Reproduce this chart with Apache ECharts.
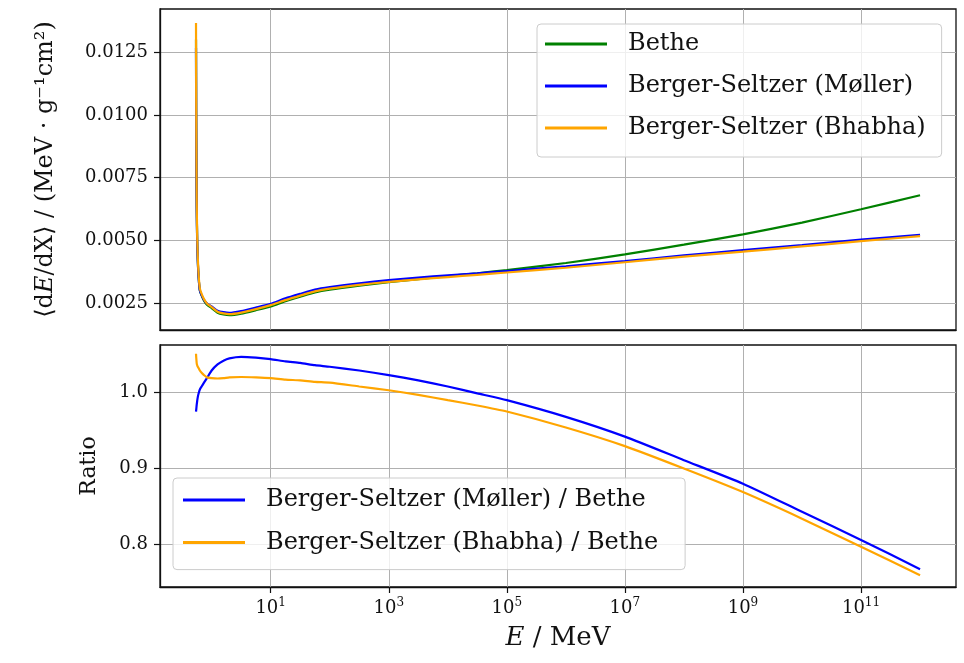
<!DOCTYPE html>
<html>
<head>
<meta charset="utf-8">
<script src="https://cdn.jsdelivr.net/npm/echarts@6/dist/echarts.min.js"></script>
<style>
  html, body { margin: 0; padding: 0; background: #fff; }
  #chart { width: 964px; height: 663px; }
</style>
</head>
<body>
<div id="chart"></div>
<script>
// x values are log10(E / MeV)
const logE = [-0.265, -0.262, -0.258, -0.253, -0.245, -0.235, -0.22, -0.2, -0.17, -0.13, -0.08, 0, 0.1, 0.2, 0.3, 0.5, 0.75, 1, 1.25, 1.5, 1.75, 2, 2.5, 3, 3.5, 4, 4.5, 5, 6, 7, 8, 9, 10, 11, 12];

// top panel: <dE/dX> in MeV g^-1 cm^2
const betheVals = [0.0130, 0.0102, 0.0080, 0.0063, 0.0050, 0.0042, 0.0035, 0.0030, 0.0028, 0.0026, 0.00244, 0.00230, 0.00212, 0.00205, 0.00202, 0.00208, 0.00222, 0.00237, 0.00258, 0.00276, 0.00293, 0.00304, 0.00320, 0.00334, 0.00346, 0.00358, 0.00369, 0.00382, 0.00410, 0.00444, 0.00483, 0.00524, 0.00571, 0.00624, 0.00680];
const mollerVals = [0.01268, 0.00997, 0.00784, 0.00620, 0.00495, 0.00417, 0.00350, 0.00301, 0.00282, 0.00263, 0.00249, 0.00237, 0.00220, 0.00214, 0.00211, 0.00218, 0.00232, 0.00247, 0.00269, 0.00287, 0.00304, 0.00314, 0.00329, 0.00342, 0.00352, 0.00361, 0.00369, 0.00378, 0.00397, 0.00418, 0.00440, 0.00461, 0.00481, 0.00503, 0.00522];
const bhabhaVals = [0.01366, 0.01068, 0.00834, 0.00654, 0.00518, 0.00434, 0.00361, 0.00309, 0.00287, 0.00266, 0.00249, 0.00234, 0.00216, 0.00209, 0.00206, 0.00212, 0.00226, 0.00242, 0.00262, 0.00280, 0.00297, 0.00308, 0.00323, 0.00335, 0.00345, 0.00354, 0.00363, 0.00372, 0.00391, 0.00413, 0.00435, 0.00455, 0.00476, 0.00497, 0.00517];

// bottom panel: ratios
const mollerRatio = [0.975, 0.977, 0.980, 0.984, 0.989, 0.994, 0.999, 1.004, 1.008, 1.013, 1.019, 1.029, 1.037, 1.042, 1.045, 1.047, 1.046, 1.044, 1.041, 1.039, 1.036, 1.034, 1.029, 1.023, 1.016, 1.008, 0.999, 0.990, 0.968, 0.942, 0.911, 0.880, 0.843, 0.806, 0.7675];
const bhabhaRatio = [1.051, 1.047, 1.043, 1.0385, 1.036, 1.034, 1.032, 1.029, 1.026, 1.023, 1.020, 1.019, 1.0185, 1.019, 1.020, 1.0205, 1.020, 1.019, 1.017, 1.016, 1.014, 1.013, 1.008, 1.003, 0.997, 0.990, 0.983, 0.975, 0.954, 0.9295, 0.900, 0.869, 0.834, 0.797, 0.7596];

const xTickExps = [1, 3, 5, 7, 9, 11];
const yTopTicks = [0.0025, 0.005, 0.0075, 0.01, 0.0125];
const yBotTicks = [0.8, 0.9, 1.0];

const FONT = 'DejaVu Serif';
const GRID_COLOR = '#b0b0b0';
const INK = '#111';

function pairs(ys) {
  return logE.map((x, i) => [x, ys[i]]);
}

function line(name, ys, color, axisIdx) {
  return {
    name: name,
    type: 'line',
    xAxisIndex: axisIdx,
    yAxisIndex: axisIdx,
    data: pairs(ys),
    showSymbol: false,
    symbol: 'none',
    smooth: 0.2,
    lineStyle: { color: color, width: 2.2 },
    itemStyle: { color: color },
    silent: true
  };
}

const axisLineStyle = { show: true, onZero: false, lineStyle: { color: INK, width: 1.3 } };
const tickStyle = { color: INK, width: 1.2 };

const xAxisBase = {
  type: 'value',
  min: -0.875,
  max: 12.609,
  axisLine: axisLineStyle,
  splitLine: { show: true, lineStyle: { color: GRID_COLOR, width: 1 } }
};

const chart = echarts.init(document.getElementById('chart'));

const legendBase = {
  orient: 'vertical',
  icon: 'rect',
  itemWidth: 62,
  itemHeight: 3,
  selectedMode: false,
  backgroundColor: 'rgba(255,255,255,0.8)',
  borderColor: '#cccccc',
  borderWidth: 1,
  borderRadius: 4,
  textStyle: { fontFamily: FONT, fontSize: 24, color: INK, padding: [0, 0, 0, 16] }
};

const option = {
  animation: false,
  backgroundColor: '#fff',
  grid: [
    { left: 160, top: 9, width: 796, height: 321, show: true, borderColor: INK, borderWidth: 1.3, backgroundColor: 'transparent' },
    { left: 160, top: 345, width: 796, height: 242, show: true, borderColor: INK, borderWidth: 1.3, backgroundColor: 'transparent' }
  ],
  xAxis: [
    Object.assign({}, xAxisBase, {
      gridIndex: 0,
      axisTick: { show: false, customValues: xTickExps },
      axisLabel: { show: false, customValues: xTickExps }
    }),
    Object.assign({}, xAxisBase, {
      gridIndex: 1,
      name: '{it|E} / MeV',
      nameLocation: 'middle',
      nameGap: 38,
      nameTextStyle: {
        fontFamily: FONT, fontSize: 26, color: INK,
        rich: { it: { fontFamily: FONT, fontSize: 26, fontStyle: 'italic', color: INK } }
      },
      axisTick: { show: true, inside: false, length: 6, customValues: xTickExps, lineStyle: tickStyle },
      axisLabel: {
        show: true,
        customValues: xTickExps,
        margin: 10,
        fontFamily: FONT,
        fontSize: 18,
        color: INK,
        formatter: v => '10{sup|' + Math.round(v) + '}',
        rich: { sup: { fontFamily: FONT, fontSize: 12, color: INK, padding: [0, 0, 10, 0] } }
      }
    })
  ],
  yAxis: [
    {
      type: 'value',
      gridIndex: 0,
      min: 0.00143,
      max: 0.01422,
      name: '⟨d{it|E}/dX⟩ / (MeV · g⁻¹cm²)',
      nameLocation: 'middle',
      nameGap: 102,
      nameTextStyle: {
        fontFamily: FONT, fontSize: 24, color: INK,
        rich: { it: { fontFamily: FONT, fontSize: 24, fontStyle: 'italic', color: INK } }
      },
      axisLine: axisLineStyle,
      axisTick: { show: true, length: 6, customValues: yTopTicks, lineStyle: tickStyle },
      axisLabel: { customValues: yTopTicks, margin: 12, fontFamily: FONT, fontSize: 18, color: INK, formatter: v => v.toFixed(4) },
      splitLine: { show: true, lineStyle: { color: GRID_COLOR, width: 1 } }
    },
    {
      type: 'value',
      gridIndex: 1,
      min: 0.744,
      max: 1.0626,
      name: 'Ratio',
      nameLocation: 'middle',
      nameGap: 60,
      nameTextStyle: { fontFamily: FONT, fontSize: 22, color: INK },
      axisLine: axisLineStyle,
      axisTick: { show: true, length: 6, customValues: yBotTicks, lineStyle: tickStyle },
      axisLabel: { customValues: yBotTicks, margin: 12, fontFamily: FONT, fontSize: 18, color: INK, formatter: v => v.toFixed(1) },
      splitLine: { show: true, lineStyle: { color: GRID_COLOR, width: 1 } }
    }
  ],
  legend: [
    Object.assign({}, legendBase, {
      left: 537,
      top: 24,
      itemGap: 18,
      padding: [8, 16, 17, 8],
      data: ['Bethe', 'Berger-Seltzer (Møller)', 'Berger-Seltzer (Bhabha)']
    }),
    Object.assign({}, legendBase, {
      left: 173,
      top: 478,
      itemGap: 18.6,
      padding: [10, 27, 15, 10],
      data: ['Berger-Seltzer (Møller) / Bethe', 'Berger-Seltzer (Bhabha) / Bethe']
    })
  ],
  series: [
    line('Bethe', betheVals, '#008000', 0),
    line('Berger-Seltzer (Møller)', mollerVals, '#0000ff', 0),
    line('Berger-Seltzer (Bhabha)', bhabhaVals, '#ffa500', 0),
    line('Berger-Seltzer (Møller) / Bethe', mollerRatio, '#0000ff', 1),
    line('Berger-Seltzer (Bhabha) / Bethe', bhabhaRatio, '#ffa500', 1)
  ]
};

chart.setOption(option);
</script>
</body>
</html>
